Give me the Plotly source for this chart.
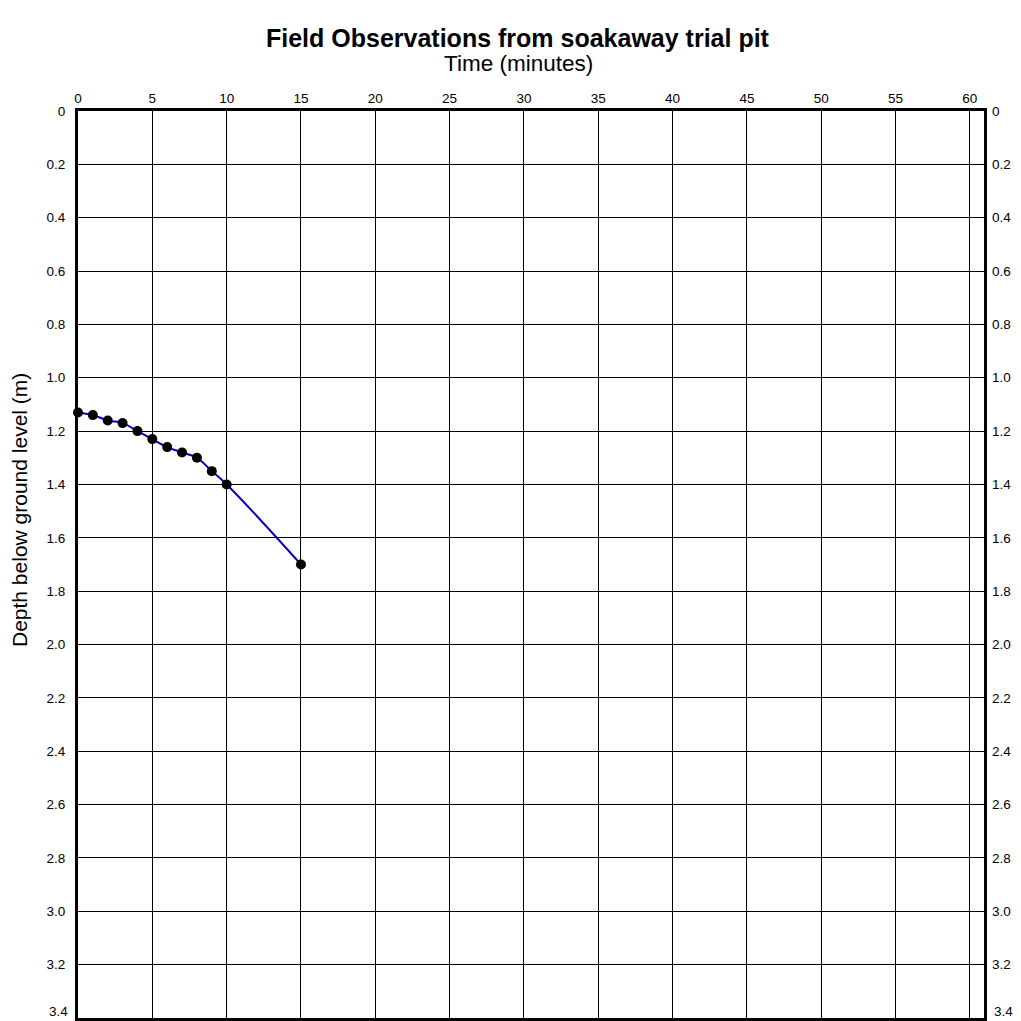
import plotly.graph_objects as go

# Soakaway trial pit readings
time_min = [0, 1, 2, 3, 4, 5, 6, 7, 8, 9, 10, 15]
depth_m = [1.13, 1.14, 1.16, 1.17, 1.20, 1.23, 1.26, 1.28, 1.30, 1.35, 1.40, 1.70]

x_ticks = list(range(0, 61, 5))
y_ticks = [round(0.2 * i, 1) for i in range(18)]
y_ticktext = ["0"] + [f"{v:.1f}" for v in y_ticks[1:]]

X_MAX = 60.95
Y_MAX = 3.4
FONT = "Liberation Sans, Arial, sans-serif"
TICK_SIZE = 13.5

W = H = 1021
M_L, M_R, M_T, M_B = 78, 37, 111, 3
PLOT_W = W - M_L - M_R
PLOT_H = H - M_T - M_B


def px_x(x):
    """paper x fraction for a page pixel column"""
    return (x - M_L) / PLOT_W


def px_y(y):
    """paper y fraction for a page pixel row"""
    return 1 - (y - M_T) / PLOT_H


fig = go.Figure()

# smooth drainage curve
fig.add_trace(go.Scatter(
    x=time_min, y=depth_m, mode="lines",
    line=dict(color="#0000CC", width=2, shape="spline", smoothing=1.3),
    hoverinfo="skip", showlegend=False,
))
# observed readings
fig.add_trace(go.Scatter(
    x=time_min, y=depth_m, mode="markers",
    marker=dict(color="black", size=10),
    showlegend=False, cliponaxis=False,
))
# dummy trace to carry the right-hand depth axis
fig.add_trace(go.Scatter(
    x=[None], y=[None], yaxis="y2", showlegend=False, hoverinfo="skip",
))

# the bottom label would run off the page, so it is drawn separately
y_ticktext_axis = y_ticktext[:-1] + [""]

axis_common = dict(
    showgrid=True, gridcolor="black", gridwidth=1,
    showline=True, linecolor="black", linewidth=3,
    zeroline=False, ticks="", automargin=False,
    tickfont=dict(family=FONT, size=TICK_SIZE, color="black"),
)

fig.update_layout(
    width=W, height=H,
    margin=dict(l=M_L, r=M_R, t=M_T, b=M_B, autoexpand=False),
    paper_bgcolor="white", plot_bgcolor="white",
    font=dict(family=FONT, color="black"),
    xaxis=dict(
        **axis_common, side="top", range=[0, X_MAX],
        tickvals=x_ticks, ticktext=[str(v) for v in x_ticks],
        mirror=True, ticklabelstandoff=0,
    ),
    yaxis=dict(
        **axis_common, range=[Y_MAX, 0],
        tickvals=y_ticks, ticktext=y_ticktext_axis,
        mirror=True, ticklabelstandoff=7,
    ),
    yaxis2=dict(
        overlaying="y", side="right", range=[Y_MAX, 0],
        tickvals=y_ticks, ticktext=y_ticktext_axis,
        showgrid=False, showline=False, zeroline=False, ticks="",
        automargin=False,
        tickfont=dict(family=FONT, size=TICK_SIZE, color="black"),
        ticklabelstandoff=7,
    ),
    annotations=[
        dict(text="<b>Field Observations from soakaway trial pit</b>",
             x=px_x(517.5), y=px_y(38), xref="paper", yref="paper",
             xanchor="center", yanchor="middle", showarrow=False,
             font=dict(family=FONT, size=25, color="black")),
        dict(text="Time (minutes)",
             x=px_x(518), y=px_y(64), xref="paper", yref="paper",
             xanchor="center", yanchor="middle", showarrow=False,
             font=dict(family=FONT, size=22.5, color="black")),
        dict(text="Depth below ground level (m)", textangle=-90,
             x=px_x(20), y=px_y(510), xref="paper", yref="paper",
             xanchor="center", yanchor="middle", showarrow=False,
             font=dict(family=FONT, size=21, color="black")),
        dict(text=y_ticktext[-1], x=px_x(70), y=Y_MAX, xref="paper", yref="y",
             xanchor="right", yanchor="bottom", yshift=-3, showarrow=False,
             font=dict(family=FONT, size=TICK_SIZE, color="black")),
        dict(text=y_ticktext[-1], x=px_x(992), y=Y_MAX, xref="paper", yref="y",
             xanchor="left", yanchor="bottom", yshift=-3, showarrow=False,
             font=dict(family=FONT, size=TICK_SIZE, color="black")),
    ],
)

fig.write_html("out.html")
